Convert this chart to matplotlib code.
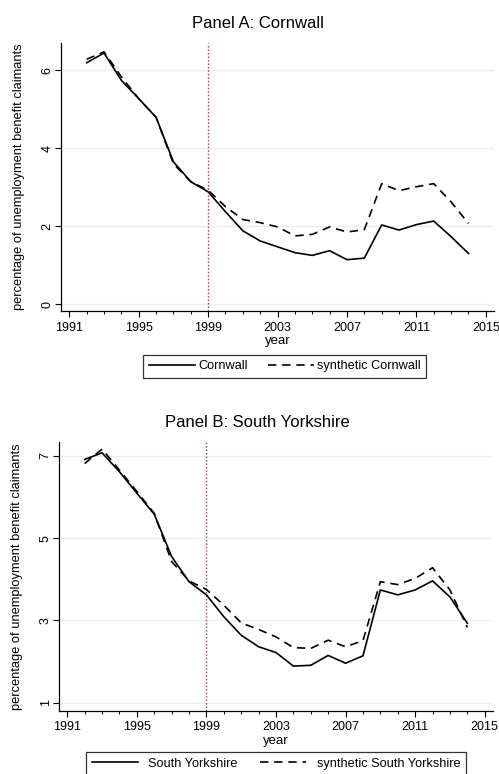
import matplotlib
matplotlib.use("Agg")
import matplotlib.pyplot as plt
from matplotlib.ticker import MultipleLocator

plt.rcParams['font.family'] = ['Liberation Sans', 'DejaVu Sans']

years = list(range(1992, 2015))

# Panel A: Cornwall
cornwall = [6.19, 6.44, 5.74, 5.27, 4.79, 3.65, 3.14, 2.88, 2.37, 1.88, 1.62, 1.47,
            1.32, 1.25, 1.37, 1.14, 1.18, 2.03, 1.90, 2.04, 2.13, 1.73, 1.30]
synth_cornwall = [6.28, 6.47, 5.83, 5.27, 4.79, 3.60, 3.14, 2.92, 2.50, 2.17, 2.09, 1.98,
                  1.75, 1.79, 1.98, 1.85, 1.91, 3.09, 2.91, 3.01, 3.09, 2.62, 2.07]

# Panel B: South Yorkshire
syorks = [6.91, 7.07, 6.61, 6.09, 5.58, 4.55, 3.94, 3.62, 3.09, 2.64, 2.36, 2.22,
          1.89, 1.91, 2.15, 1.96, 2.14, 3.74, 3.62, 3.74, 3.96, 3.57, 2.93]
synth_syorks = [6.81, 7.16, 6.65, 6.13, 5.60, 4.43, 3.96, 3.75, 3.37, 2.94, 2.78, 2.60,
                2.34, 2.32, 2.52, 2.36, 2.51, 3.94, 3.87, 4.02, 4.28, 3.74, 2.83]

xticks = [1991, 1995, 1999, 2003, 2007, 2011, 2015]
treat_year = 1999

panels = [
    dict(title="Panel A: Cornwall", real=cornwall, synth=synth_cornwall,
         names=("Cornwall", "synthetic Cornwall"), yticks=[0, 2, 4, 6], ylim=(-0.18, 6.7),
         rect=[0.1229, 0.598, 0.867, 0.3466], title_y=0.969,
         leg=(0.5705, 0.5265), leg_loc="center", textpad=0.25, colspace=1.6),
    dict(title="Panel B: South Yorkshire", real=syorks, synth=synth_syorks,
         names=("South Yorkshire", "synthetic South Yorkshire"), yticks=[1, 3, 5, 7], ylim=(0.8, 7.34),
         rect=[0.1188, 0.0814, 0.869, 0.3479], title_y=0.454,
         leg=(0.553, 0.0365), leg_loc="upper center", textpad=0.8, colspace=1.8),
]

fig = plt.figure(figsize=(4.99, 7.74), dpi=100)

for p in panels:
    ax = fig.add_axes(p["rect"])
    for y in p["yticks"]:
        ax.axhline(y, color="#e6eef0", lw=0.9, zorder=0)
    ax.axvline(treat_year, color="#b5424a", lw=1.0, ls=(0, (1.1, 1.4)), zorder=1)
    l1, = ax.plot(years, p["real"], color="black", lw=1.2, zorder=3)
    l2, = ax.plot(years, p["synth"], color="black", lw=1.2, ls=(0, (5, 3.5)), zorder=2)

    ax.set_xlim(1990.54, 2015.47)
    ax.set_ylim(*p["ylim"])
    ax.set_xticks(xticks)
    ax.xaxis.set_minor_locator(MultipleLocator(1))
    ax.set_yticks(p["yticks"])
    ax.tick_params(axis="both", which="major", labelsize=9, length=4, width=0.8, direction="out")
    ax.tick_params(axis="y", which="major", pad=1.5)
    ax.tick_params(axis="x", which="minor", length=2.5, width=0.7)
    for lab in ax.get_yticklabels():
        lab.set_rotation(90)
        lab.set_va("center")
    ax.set_xlabel("year", fontsize=9.5, labelpad=1)
    ax.set_ylabel("percentage of unemployment benefit claimants", fontsize=9.3)
    ax.yaxis.set_label_coords(-0.084, 0.5)
    ax.spines["top"].set_visible(False)
    ax.spines["right"].set_visible(False)
    ax.spines["left"].set_linewidth(0.9)
    ax.spines["bottom"].set_linewidth(0.9)

    fig.text(0.516, p["title_y"], p["title"], fontsize=12, ha="center", va="center")

    leg = fig.legend([l1, l2], p["names"], loc=p["leg_loc"], bbox_to_anchor=p["leg"],
                     ncol=2, fontsize=9.2, frameon=True, fancybox=False, edgecolor="black",
                     handlelength=3.6, handletextpad=p["textpad"], columnspacing=p["colspace"],
                     borderpad=0.45)
    leg.get_frame().set_linewidth(0.9)

fig.savefig("out.png", dpi=100)
